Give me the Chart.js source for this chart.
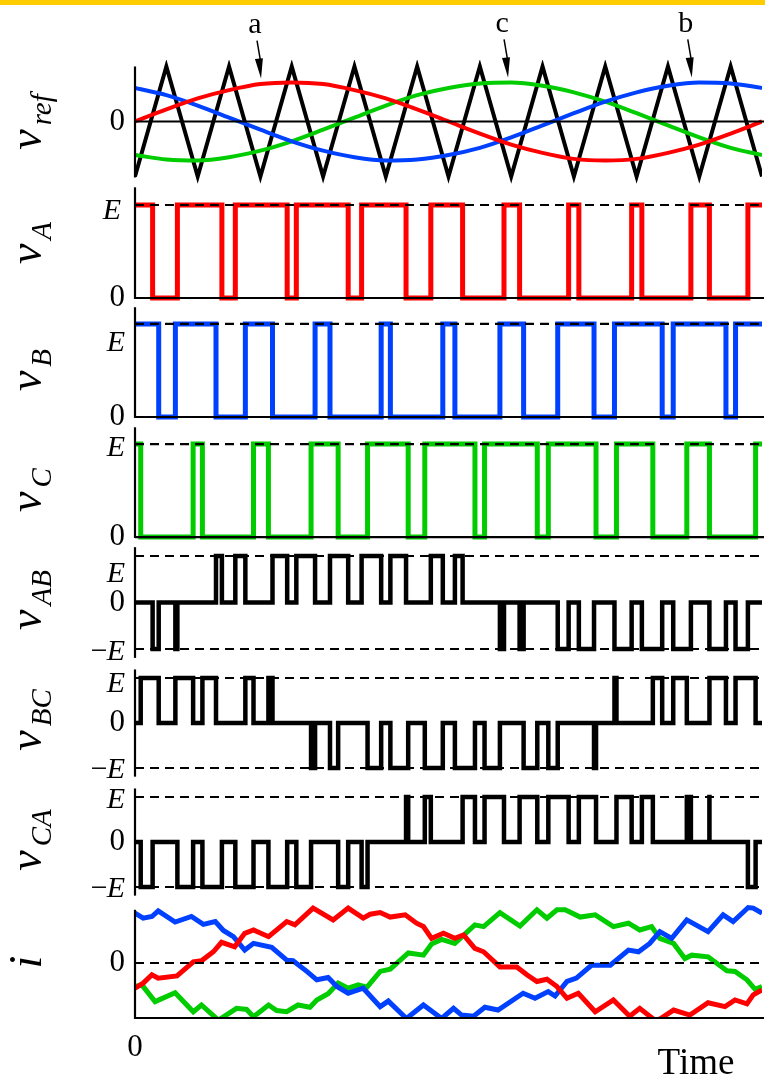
<!DOCTYPE html>
<html>
<head>
<meta charset="utf-8">
<script src="https://cdn.jsdelivr.net/npm/chart.js@4"></script>
<style>
  html, body { margin: 0; padding: 0; background: #fff; }
  #wrap { position: relative; width: 765px; height: 1081px; }
</style>
</head>
<body>
<div id="wrap"><canvas id="chart" width="765" height="1081"></canvas></div>
<script>
// time is counted in carrier periods (10 periods over the plot)
const carrierT = [0, 0.5, 1, 1.5, 2, 2.5, 3, 3.5, 4, 4.5, 5, 5.5, 6, 6.5, 7, 7.5, 8, 8.5, 9, 9.5, 10];
const carrierV = [-1, 1, -1, 1, -1, 1, -1, 1, -1, 1, -1, 1, -1, 1, -1, 1, -1, 1, -1, 1, -1];

// reference waves, read every half carrier period
const refT = carrierT;
const refA = [0, .22, .42, .57, .68, .71, .68, .57, .42, .22, 0, -.22, -.42, -.57, -.68, -.71, -.68, -.57, -.42, -.22, 0];
const refB = [.61, .48, .29, .07, -.15, -.36, -.53, -.65, -.71, -.69, -.61, -.48, -.29, -.07, .15, .36, .53, .65, .71, .69, .61];
const refC = [-.61, -.69, -.71, -.65, -.53, -.36, -.15, .07, .29, .48, .61, .69, .71, .65, .53, .36, .15, -.07, -.29, -.48, -.61];

// switching instants of the pole voltages (each one starts at E)
const edgesA = [0.281, 0.676, 1.386, 1.600, 2.427, 2.573, 3.400, 3.614, 4.323, 4.718, 5.225, 5.885, 6.134, 6.916, 7.079, 7.921, 8.084, 8.866, 9.161, 9.775];
const edgesB = [0.378, 0.644, 1.292, 1.760, 2.193, 2.872, 3.110, 3.926, 4.073, 4.909, 5.102, 5.820, 6.198, 6.742, 7.321, 7.647, 8.408, 8.584, 9.425, 9.578];
const edgesC = [0.091, 0.927, 1.075, 1.890, 2.128, 2.808, 3.240, 3.709, 4.357, 4.622, 5.422, 5.575, 6.416, 6.592, 7.353, 7.679, 8.259, 8.801, 9.162, 9.898];
const startA = 1, startB = 1, startC = 1;

// phase currents
const iaT = [0, .13, .27, .37, .67, .93, 1.06, 1.25, 1.38, 1.59, 1.75, 1.89, 2.13, 2.42, 2.55, 2.84, 3.16, 3.40, 3.64, 3.75, 3.91, 4.07, 4.31, 4.49, 4.60, 4.73, 4.92, 5.10, 5.24, 5.42, 5.56, 5.82, 6.09, 6.25, 6.41, 6.57, 6.73, 6.89, 7.07, 7.34, 7.63, 7.89, 8.05, 8.29, 8.37, 8.59, 8.85, 9.14, 9.41, 9.57, 9.76, 9.86, 10];
const iaV = [-.45, -.36, -.21, -.27, -.23, .02, .04, .2, .37, .29, .53, .59, .47, .74, .68, .98, .77, .98, .80, .87, .90, .82, .86, .71, .65, .44, .53, .44, .50, .26, .20, -.07, -.07, -.21, -.33, -.29, -.42, -.63, -.54, -.87, -.66, -.95, -.81, -1.02, -1.0, -.84, -.93, -.71, -.78, -.66, -.73, -.57, -.48];
const ibT = [0, .13, .27, .37, .64, .90, 1.09, 1.28, 1.41, 1.57, 1.75, 1.89, 2.18, 2.42, 2.52, 2.74, 2.90, 3.08, 3.22, 3.40, 3.64, 3.91, 4.04, 4.33, 4.60, 4.89, 5.08, 5.21, 5.40, 5.58, 5.79, 6.19, 6.38, 6.59, 6.70, 6.89, 7.04, 7.28, 7.58, 7.87, 8.03, 8.21, 8.37, 8.56, 8.80, 9.14, 9.38, 9.54, 9.78, 9.86, 10];
const ibV = [.89, .80, .83, .93, .73, .83, .69, .74, .58, .47, .23, .35, .28, .05, .04, -.15, -.30, -.26, -.42, -.54, -.45, -.78, -.68, -.99, -.75, -.99, -.81, -.93, -.95, -.79, -.84, -.54, -.63, -.51, -.59, -.33, -.27, -.04, -.04, .23, .20, .35, .56, .44, .77, .56, .86, .74, .99, .98, .89];
const icT = [0, .11, .32, .64, .93, 1.06, 1.33, 1.62, 1.78, 1.89, 2.13, 2.26, 2.42, 2.60, 2.79, 2.90, 3.08, 3.24, 3.40, 3.56, 3.70, 3.91, 4.07, 4.36, 4.60, 4.73, 4.89, 5.10, 5.42, 5.56, 5.82, 6.14, 6.41, 6.57, 6.73, 6.86, 7.10, 7.34, 7.63, 7.87, 8.05, 8.24, 8.37, 8.59, 8.77, 8.88, 9.14, 9.44, 9.57, 9.76, 9.89, 10];
const icV = [-.42, -.39, -.69, -.53, -.87, -.75, -1.02, -.81, -.83, -.96, -.75, -.85, -.87, -.75, -.79, -.66, -.55, -.36, -.45, -.39, -.43, -.15, -.11, .18, .14, .34, .42, .35, .68, .65, .90, .66, .95, .80, .95, .95, .82, .86, .65, .71, .59, .65, .44, .35, .08, .14, .11, -.14, -.15, -.30, -.47, -.42];

const T_END = 10;
const RED = '#ff0000', BLUE = '#0040ff', GREEN = '#00cc00';
const SERIF = '"Liberation Serif", "Times New Roman", serif';

// one stacked y axis per panel, top to bottom
const panels = [
  { id: 'yRef', h: 125, min: -1.155, max: 1.118, axis: [-1, 1], solid: [0], dashed: [], title: ['v', 'ref'], ty: 122,
    ticks: [{ v: 0, txt: '0' }] },
  { id: 'yA', h: 120, min: -0.075, max: 1.215, axis: [0, 1.19], solid: [0], dashed: [1], title: ['v', 'A'], ty: 243,
    ticks: [{ v: 1, txt: 'E', dy: 6, right: 121 }, { v: 0, txt: '0' }] },
  { id: 'yB', h: 121, min: -0.097, max: 1.204, axis: [0, 1.18], solid: [0], dashed: [1], title: ['v', 'B'], ty: 370,
    ticks: [{ v: 1, txt: 'E', dy: 19 }, { v: 0, txt: '0' }] },
  { id: 'yC', h: 122, min: -0.118, max: 1.194, axis: [0, 1.18], solid: [0], dashed: [1], title: ['v', 'C'], ty: 490,
    ticks: [{ v: 1, txt: 'E', dy: 4 }, { v: 0, txt: '0' }] },
  { id: 'yAB', h: 117, min: -1.344, max: 1.172, axis: [-1.17, 1.19], solid: [], dashed: [1, -1], title: ['v', 'AB'], ty: 600,
    ticks: [{ v: 1, txt: 'E', dy: 18 }, { v: 0, txt: '0' }, { v: -1, txt: '−E', dy: 3 }] },
  { id: 'yBC', h: 120, min: -1.378, max: 1.289, axis: [-1.17, 1.19], solid: [], dashed: [1, -1], title: ['v', 'BC'], ty: 720,
    ticks: [{ v: 1, txt: 'E', dy: 6 }, { v: 0, txt: '0' }, { v: -1, txt: '−E', dy: 2 }] },
  { id: 'yCA', h: 118, min: -1.356, max: 1.267, axis: [-1.17, 1.19], solid: [], dashed: [1, -1], title: ['v', 'CA'], ty: 840,
    ticks: [{ v: 1, txt: 'E', dy: 3 }, { v: 0, txt: '0' }, { v: -1, txt: '−E', dy: 2 }] },
  { id: 'yI', h: 115, min: -0.982, max: 1.071, axis: [-0.982, 0.95], solid: [-0.982], dashed: [0], title: ['i', ''], ty: 962,
    ticks: [{ v: 0, txt: '0' }] }
];

// arrows naming the reference waves: tip at (t, value) on the top axis
const arrows = [
  { label: 'a', t: 2.01, v: 0.78 },
  { label: 'c', t: 5.95, v: 0.80 },
  { label: 'b', t: 8.88, v: 0.80 }
];

function xy(ts, vs) { return ts.map((t, i) => ({ x: t, y: vs[i] })); }

function pulseTrain(edges, start) {
  let v = start;
  const pts = [{ x: 0, y: v }];
  edges.forEach(t => { v = 1 - v; pts.push({ x: t, y: v }); });
  pts.push({ x: T_END, y: v });
  return pts;
}

function levelAt(edges, start, t) {
  const n = edges.filter(e => e <= t).length;
  return n % 2 ? 1 - start : start;
}

function lineLine(eP, sP, eQ, sQ) {
  const times = [...eP, ...eQ].sort((a, b) => a - b);
  const pts = [{ x: 0, y: sP - sQ }];
  times.forEach(t => pts.push({ x: t, y: levelAt(eP, sP, t) - levelAt(eQ, sQ, t) }));
  pts.push({ x: T_END, y: pts[pts.length - 1].y });
  return pts;
}

function line(axis, data, color, width, extra) {
  return Object.assign({ data, yAxisID: axis, borderColor: color, borderWidth: width,
    pointRadius: 0, fill: false, tension: 0 }, extra || {});
}

const step = { stepped: true, borderJoinStyle: 'miter' };
const smooth = { cubicInterpolationMode: 'monotone' };

const datasets = [
  line('yRef', xy(refT, refA), RED, 4, smooth),
  line('yRef', xy(refT, refB), BLUE, 4, smooth),
  line('yRef', xy(refT, refC), GREEN, 4, smooth),
  line('yRef', xy(carrierT, carrierV), '#000', 4, { borderJoinStyle: 'miter' }),
  line('yA', pulseTrain(edgesA, startA), RED, 5, step),
  line('yB', pulseTrain(edgesB, startB), BLUE, 5, step),
  line('yC', pulseTrain(edgesC, startC), GREEN, 5, step),
  line('yAB', lineLine(edgesA, startA, edgesB, startB), '#000', 4.5, step),
  line('yBC', lineLine(edgesB, startB, edgesC, startC), '#000', 4.5, step),
  line('yCA', lineLine(edgesC, startC, edgesA, startA), '#000', 4.5, step),
  line('yI', xy(iaT, iaV), RED, 5),
  line('yI', xy(ibT, ibV), BLUE, 5),
  line('yI', xy(icT, icV), GREEN, 5)
];

const scales = {
  x: { type: 'linear', min: 0, max: T_END, display: false }
};
panels.forEach((p, i) => {
  scales[p.id] = {
    type: 'linear', position: 'left', stack: 'panels', stackWeight: p.h, weight: panels.length - i,
    min: p.min, max: p.max,
    grid: { display: false, drawTicks: false }, border: { display: false }, ticks: { display: false },
    afterFit: s => { s.width = 0; }
  };
});

function seg(ctx, x1, y1, x2, y2) {
  ctx.beginPath(); ctx.moveTo(x1, y1); ctx.lineTo(x2, y2); ctx.stroke();
}

// rotated axis name, e.g. v with subscript "AB"
function drawTitle(ctx, cx, cy, main, sub) {
  ctx.save();
  ctx.translate(cx, cy);
  ctx.rotate(-Math.PI / 2);
  ctx.fillStyle = '#000';
  ctx.textBaseline = 'alphabetic';
  ctx.textAlign = 'left';
  const mainFont = 'italic 46px ' + SERIF, subFont = 'italic 29px ' + SERIF;
  ctx.font = mainFont;
  const w1 = ctx.measureText(main).width + (sub ? 4 : 0);
  ctx.font = subFont;
  const w2 = sub ? ctx.measureText(sub).width : 0;
  const x0 = -(w1 + w2) / 2;
  ctx.font = mainFont;
  ctx.fillText(main, x0, 0);
  if (sub) {
    ctx.font = subFont;
    ctx.fillText(sub, x0 + w1, 10);
  }
  ctx.restore();
}

function drawTick(ctx, txt, right, y) {
  ctx.textBaseline = 'middle';
  ctx.textAlign = 'right';
  if (txt === '0') {
    ctx.font = '31px ' + SERIF;
    ctx.fillText('0', right, y);
    return;
  }
  ctx.font = 'italic 30px ' + SERIF;
  ctx.fillText('E', right, y);
  if (txt.length > 1) {
    const w = ctx.measureText('E').width;
    ctx.font = '30px ' + SERIF;
    ctx.fillText('−', right - w + 1, y);
  }
}

const decor = {
  id: 'decor',
  beforeDraw(chart) {
    const ctx = chart.ctx;
    ctx.save();
    ctx.fillStyle = '#ffcc00';
    ctx.fillRect(0, 0, chart.width, 5);
    ctx.restore();
  },
  afterDatasetsDraw(chart) {
    const ctx = chart.ctx;
    const xs = chart.scales.x;
    const xl = xs.getPixelForValue(0), xr = xs.getPixelForValue(T_END) + 2;
    ctx.save();
    ctx.strokeStyle = '#000';
    panels.forEach(p => {
      const ys = chart.scales[p.id];
      ctx.setLineDash([]);
      ctx.lineWidth = 2.2;
      seg(ctx, xl, ys.getPixelForValue(p.axis[0]) + 1, xl, ys.getPixelForValue(p.axis[1]));
      p.solid.forEach(v => seg(ctx, xl, ys.getPixelForValue(v), xr, ys.getPixelForValue(v)));
      ctx.setLineDash([9, 6]);
      p.dashed.forEach(v => seg(ctx, xl, ys.getPixelForValue(v), xr, ys.getPixelForValue(v)));
    });
    ctx.restore();
  },
  afterDraw(chart) {
    const ctx = chart.ctx;
    const xs = chart.scales.x;
    ctx.save();
    ctx.fillStyle = '#000';
    ctx.strokeStyle = '#000';
    panels.forEach(p => {
      const ys = chart.scales[p.id];
      p.ticks.forEach(tk => drawTick(ctx, tk.txt, tk.right || 125, ys.getPixelForValue(tk.v) + (tk.dy || 0)));
      drawTitle(ctx, 41, p.ty, p.title[0], p.title[1]);
    });
    // time axis texts
    ctx.textAlign = 'center';
    ctx.textBaseline = 'middle';
    ctx.font = '31px ' + SERIF;
    ctx.fillText('0', xs.getPixelForValue(0), 1048);
    ctx.font = '37px ' + SERIF;
    ctx.fillText('Time', 696, 1064);
    // arrows
    const yr = chart.scales.yRef;
    arrows.forEach(a => {
      const tx = xs.getPixelForValue(a.t), ty = yr.getPixelForValue(a.v);
      const sx = tx - 4, sy = ty - 38;
      ctx.lineWidth = 1.5;
      ctx.setLineDash([]);
      seg(ctx, sx, sy, tx - 0.6, ty - 18);
      const ang = Math.atan2(ty - sy, tx - sx);
      ctx.beginPath();
      ctx.moveTo(tx, ty);
      ctx.lineTo(tx - 20 * Math.cos(ang) + 4 * Math.sin(ang), ty - 20 * Math.sin(ang) - 4 * Math.cos(ang));
      ctx.lineTo(tx - 20 * Math.cos(ang) - 4 * Math.sin(ang), ty - 20 * Math.sin(ang) + 4 * Math.cos(ang));
      ctx.closePath();
      ctx.fill();
      ctx.font = '30px ' + SERIF;
      ctx.textAlign = 'center';
      ctx.textBaseline = 'middle';
      ctx.fillText(a.label, sx - 2, sy - 15);
    });
    ctx.restore();
  }
};

new Chart(document.getElementById('chart'), {
  type: 'line',
  data: { datasets },
  options: {
    responsive: false,
    animation: false,
    events: [],
    layout: { padding: { left: 135, right: 3, top: 60, bottom: 63 } },
    scales,
    plugins: { legend: { display: false }, tooltip: { enabled: false } }
  },
  plugins: [decor]
});
</script>
</body>
</html>
